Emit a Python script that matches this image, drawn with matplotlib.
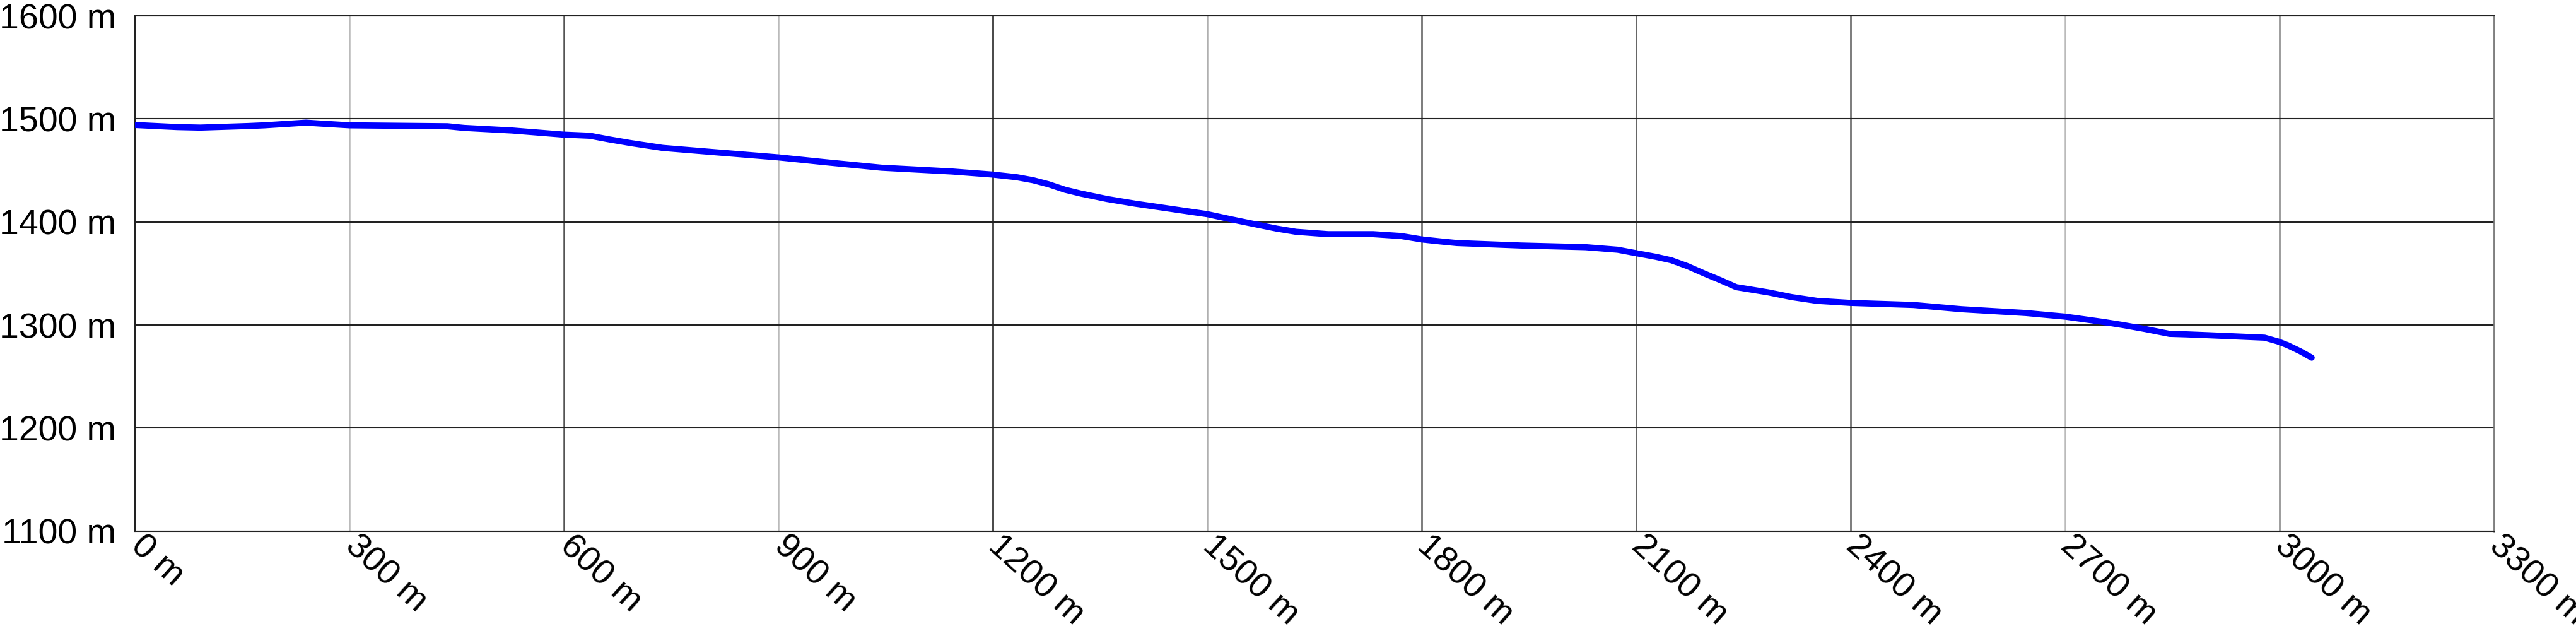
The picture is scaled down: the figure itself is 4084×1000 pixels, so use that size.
import matplotlib
matplotlib.use("Agg")
import matplotlib.pyplot as plt

plt.rcParams['font.family'] = ['Liberation Sans', 'DejaVu Sans']

# distance along route (m) and elevation (m)
dist = [0, 59, 91, 158, 181, 239, 257, 300, 437, 460,
        527, 599, 636, 662, 693, 738, 806, 900, 963, 1044,
        1143, 1200, 1233, 1256, 1278, 1301, 1323, 1360, 1399, 1500,
        1534, 1570, 1597, 1624, 1669, 1732, 1771, 1800, 1827, 1849,
        1939, 2029, 2074, 2105, 2127, 2149, 2172, 2195, 2218, 2240,
        2285, 2317, 2353, 2400, 2488, 2555, 2645, 2700, 2753, 2782,
        2811, 2846, 2870, 2899, 2979, 2997, 3011, 3029, 3045]
elev = [1494, 1492, 1491.5, 1493, 1493.7, 1496.3, 1495.5, 1493.7, 1492.8, 1491.2,
        1488.7, 1484.7, 1483.6, 1480.2, 1476.5, 1471.8, 1467.9, 1462.6, 1458.1, 1452.6,
        1448.9, 1445.9, 1443.4, 1440.5, 1436.5, 1431.2, 1427.5, 1422.2, 1417.7, 1407.5,
        1402.4, 1397.3, 1393.5, 1390.4, 1388.1, 1388.1, 1386.3, 1383, 1381, 1379.5,
        1377.1, 1375.5, 1373, 1369, 1366.2, 1362.8, 1357, 1350, 1343.4, 1336.7,
        1331.6, 1327.1, 1323.4, 1321.4, 1319.4, 1315.3, 1311.6, 1308.1, 1303, 1299.8,
        1296.2, 1291.4, 1290.9, 1290.1, 1287.7, 1284.2, 1280.5, 1274.5, 1268.3]

x_ticks = [0, 300, 600, 900, 1200, 1500, 1800, 2100, 2400, 2700, 3000, 3300]
x_labels = ["0 m", "300 m", "600 m", "900 m", "1200 m", "1500 m", "1800 m",
            "2100 m", "2400 m", "2700 m", "3000 m", "3300 m"]
y_ticks = [1100, 1200, 1300, 1400, 1500, 1600]
y_labels = ["1100 m", "1200 m", "1300 m", "1400 m", "1500 m", "1600 m"]

# visual tone of each vertical grid line as seen in the reference
x_grid_colors = ['#333333', '#bbbbbb', '#555555', '#bbbbbb', '#111111', '#b0b0b0',
                 '#555555', '#666666', '#555555', '#bbbbbb', '#808080', '#808080']

fig = plt.figure(figsize=(40.84, 10), dpi=100)
ax = fig.add_axes([214.3 / 4084, 1 - 841.7 / 1000, (3954 - 214.3) / 4084, (841.7 - 25) / 1000])

ax.plot(dist, elev, color='#0000ff', linewidth=7, solid_capstyle='round',
        solid_joinstyle='round', zorder=3)

ax.set_xlim(0, 3300)
ax.set_ylim(1100, 1600)
ax.set_xticks(x_ticks)
ax.set_xticklabels(x_labels)
ax.set_yticks(y_ticks)
ax.set_yticklabels(y_labels)

ax.tick_params(axis='both', length=0, labelsize=40, colors='black')
ax.tick_params(axis='y', pad=22)
ax.tick_params(axis='x', pad=12)
for lab in ax.get_xticklabels():
    lab.set_rotation(-42)
    lab.set_ha('left')
    lab.set_va('center')
    lab.set_rotation_mode('anchor')

ax.grid(True, axis='y', color='#222222', linewidth=1.5, zorder=1)
ax.grid(True, axis='x', linewidth=1.8, zorder=1)
for gl, c in zip(ax.get_xgridlines(), x_grid_colors):
    gl.set_color(c)

for side in ['left', 'bottom', 'top']:
    ax.spines[side].set_color('#222222')
    ax.spines[side].set_linewidth(1.5)
ax.spines['right'].set_color('#808080')
ax.spines['right'].set_linewidth(1.8)

fig.savefig('out.png', dpi=100, facecolor='white')
